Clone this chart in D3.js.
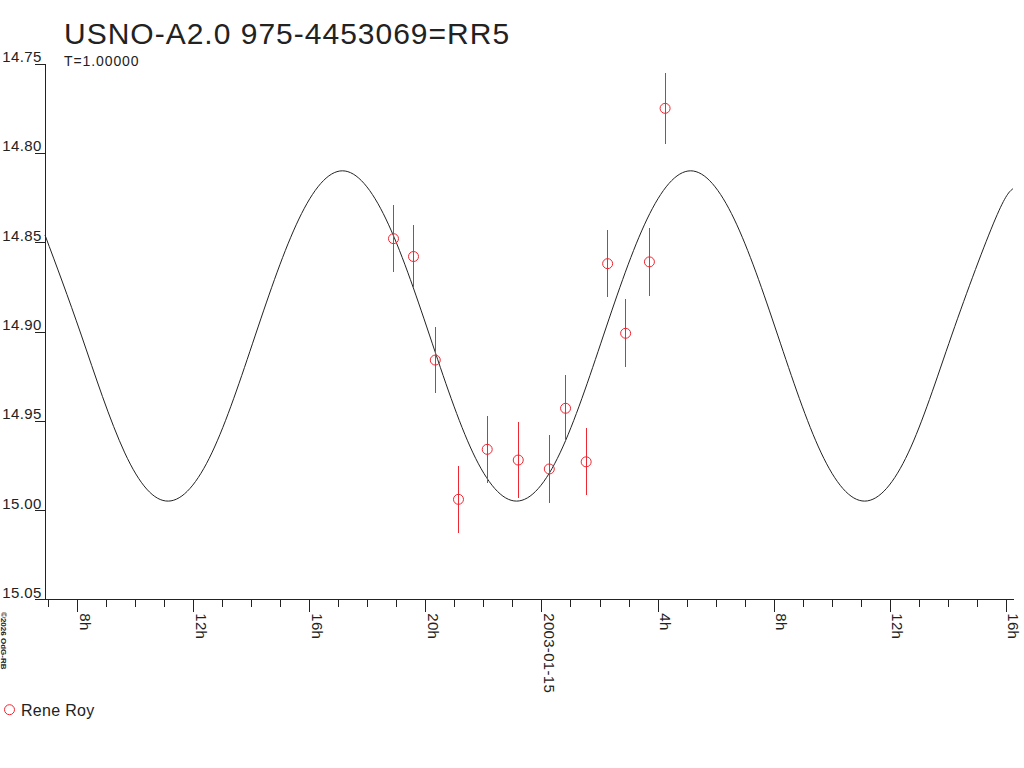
<!DOCTYPE html>
<html>
<head>
<meta charset="utf-8">
<script src="https://cdn.jsdelivr.net/npm/d3@7"></script>
<style>
  body { margin: 0; background: #fff; }
  text { font-family: "Liberation Sans", Arial, sans-serif; fill: #222; }
</style>
</head>
<body>
<svg id="chart" width="1024" height="768"></svg>
<script>
var title = 'USNO-A2.0 975-4453069=RR5';
var subtitle = 'T=1.00000';
var observer = 'Rene Roy';
var credit = '\u00a92026 OdG-RB';

// observations, hours relative to 2003-01-15 00:00 UT
var obsHours = [-5.10, -4.41, -3.66, -2.86, -1.87, -0.80, 0.27, 0.83, 1.54, 2.28, 2.90, 3.72, 4.26];
var obsMag   = [14.848, 14.858, 14.916, 14.994, 14.966, 14.972, 14.977, 14.943, 14.973, 14.862, 14.901, 14.861, 14.775];
var obsErr   = [0.0187, 0.0175, 0.0187, 0.0187, 0.0186, 0.0215, 0.019, 0.0188, 0.0187, 0.0187, 0.019, 0.019, 0.020];

// fitted light curve
var fitHours = [-17.11, -15.86, -14.36, -12.86, -11.36, -9.86, -8.36, -6.86, -5.36, -3.86, -2.36, -0.86,
                0.64, 2.14, 3.64, 5.14, 6.64, 8.14, 9.64, 11.14, 12.64, 14.14, 15.64, 16.25];
var fitMag   = [14.846, 14.902, 14.968, 14.995, 14.968, 14.902, 14.837, 14.810, 14.837, 14.902, 14.968, 14.995,
                14.968, 14.902, 14.837, 14.810, 14.837, 14.902, 14.968, 14.995, 14.968, 14.902, 14.837, 14.820];

var magTicks = [14.75, 14.80, 14.85, 14.90, 14.95, 15.00, 15.05];
var majorTickLabels = ['8h', '12h', '16h', '20h', '2003-01-15', '4h', '8h', '12h', '16h'];
var timeRange = [-17.11, 16.25];

var red = '#ee2833';
var base = Date.UTC(2003, 0, 15);
function toDate(h) { return new Date(base + h * 3600e3); }

var svg = d3.select('#chart');

var x = d3.scaleUtc()
  .domain(timeRange.map(toDate))
  .range([45, 1013]);

var y = d3.scaleLinear()
  .domain([14.75, 15.05])
  .range([63.7, 599.3]);

// y axis, labels sit on top of the tick
var yAxis = svg.append('g')
  .attr('transform', 'translate(45,0)')
  .attr('shape-rendering', 'crispEdges')
  .call(d3.axisLeft(y).tickValues(magTicks).tickFormat(d3.format('.2f')).tickSize(10).tickSizeOuter(0));
yAxis.selectAll('path, line').attr('stroke', '#222');
yAxis.selectAll('text')
  .attr('x', -3.3)
  .attr('dy', -2)
  .attr('font-size', 15)
  .attr('letter-spacing', 0.4)
  .attr('fill', '#222');

// x axis: hourly minor ticks, 4-hourly labelled ticks
var xMinor = svg.append('g')
  .attr('transform', 'translate(0,' + y(15.05) + ')')
  .attr('shape-rendering', 'crispEdges')
  .call(d3.axisBottom(x).ticks(d3.utcHour.every(1)).tickFormat('').tickSize(8).tickSizeOuter(0));
xMinor.selectAll('path, line').attr('stroke', '#222');

var xMajor = svg.append('g')
  .attr('transform', 'translate(0,' + y(15.05) + ')')
  .attr('shape-rendering', 'crispEdges')
  .call(d3.axisBottom(x).ticks(d3.utcHour.every(4)).tickFormat((d, i) => majorTickLabels[i]).tickSize(13).tickSizeOuter(0));
xMajor.select('.domain').remove();
xMajor.selectAll('line').attr('stroke', '#222');
xMajor.selectAll('text')
  .attr('transform', 'rotate(90)')
  .attr('x', 14)
  .attr('y', -2)
  .attr('dy', 0)
  .attr('text-anchor', 'start')
  .attr('font-size', 15)
  .attr('letter-spacing', 0.3)
  .attr('fill', '#222');

// fitted curve
var line = d3.line()
  .x(d => x(toDate(d[0])))
  .y(d => y(d[1]))
  .curve(d3.curveNatural);

svg.append('path')
  .datum(d3.zip(fitHours, fitMag))
  .attr('d', line)
  .attr('fill', 'none')
  .attr('stroke', '#222')
  .attr('stroke-width', 1);

// observations with error bars
var obs = obsHours.map((h, i) => ({ t: toDate(h), mag: obsMag[i], err: obsErr[i] }));

svg.selectAll('.err')
  .data(obs).enter().append('line')
  .classed('err', true)
  .attr('x1', d => x(d.t))
  .attr('x2', d => x(d.t))
  .attr('y1', d => y(d.mag - d.err))
  .attr('y2', d => y(d.mag + d.err))
  .attr('stroke', red)
  .attr('stroke-width', 1)
  .attr('shape-rendering', 'crispEdges');

svg.selectAll('.obs')
  .data(obs).enter().append('circle')
  .classed('obs', true)
  .attr('cx', d => x(d.t))
  .attr('cy', d => y(d.mag))
  .attr('r', 5)
  .attr('fill', 'none')
  .attr('stroke', red)
  .attr('stroke-width', 1);

// titles
svg.append('text')
  .attr('x', 64)
  .attr('y', 44)
  .attr('font-size', 30)
  .attr('letter-spacing', 1)
  .text(title);

svg.append('text')
  .attr('x', 64)
  .attr('y', 66)
  .attr('font-size', 14)
  .attr('letter-spacing', 0.9)
  .text(subtitle);

// legend
svg.append('circle')
  .attr('cx', 9.5)
  .attr('cy', 709.7)
  .attr('r', 5)
  .attr('fill', 'none')
  .attr('stroke', red);

svg.append('text')
  .attr('x', 21)
  .attr('y', 716)
  .attr('font-size', 16)
  .attr('letter-spacing', 0.3)
  .text(observer);

// credit, running down the left edge
svg.append('text')
  .attr('transform', 'translate(1,612)rotate(90)')
  .attr('font-size', 8)
  .attr('font-weight', 'bold')
  .text(credit);
</script>
</body>
</html>
